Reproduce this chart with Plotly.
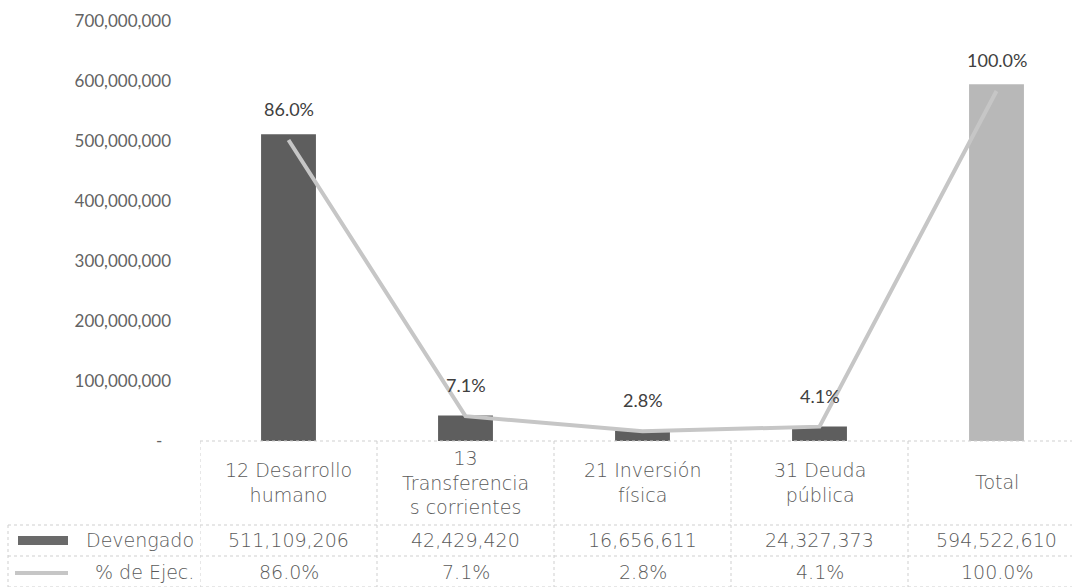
import plotly.graph_objects as go

categories = ["12 Desarrollo<br>humano", "13<br>Transferencia<br>s corrientes",
              "21 Inversión<br>física", "31 Deuda<br>pública", "Total"]
devengado = [511109206, 42429420, 16656611, 24327373, 594522610]
pct_ejec = [0.860, 0.071, 0.028, 0.041, 1.000]
bar_colors = ["#5e5e5e", "#5e5e5e", "#5e5e5e", "#5e5e5e", "#b8b8b8"]
y_ticks = [0, 100000000, 200000000, 300000000, 400000000, 500000000, 600000000, 700000000]
y_ticklabels = ["-  "] + [f"{v:,}" for v in y_ticks[1:]]
row_labels = ["Devengado", "% de Ejec."]

W, H = 1072, 587
L, R, T, B = 200, 0, 21, 146
plot_w = W - L - R
plot_h = H - T - B
unit_px = 177.0
xpos = list(range(len(categories)))
x_max = -0.5 + plot_w / unit_px


def py(Y):
    return (441 - Y) / plot_h


def px(X):
    return (X - L) / plot_w


fig = go.Figure()
fig.add_trace(go.Bar(x=xpos, y=devengado, marker=dict(color=bar_colors, line=dict(width=0)),
                     width=0.31, name="Devengado", showlegend=False))
fig.add_trace(go.Scatter(x=xpos, y=pct_ejec, yaxis="y2", mode="lines",
                         line=dict(color="#c6c6c6", width=4), name="% de Ejec.",
                         showlegend=False))

ann = []
for i, p in enumerate(pct_ejec):
    ann.append(dict(x=xpos[i], y=p, xref="x", yref="y2", text=f"{p*100:.1f}%",
                    showarrow=False, yshift=31, yanchor="middle",
                    font=dict(family="Lato, Calibri, sans-serif", size=18, color="#404040")))

hfont = dict(family="DejaVu Sans, sans-serif", size=19, color="#5a5a5a", weight=300)
nfont = dict(family="DejaVu Sans, sans-serif", size=19, color="#5a5a5a", weight=300)
for i, c in enumerate(categories):
    ann.append(dict(x=xpos[i], y=py(482), xref="x", yref="paper", text=c, showarrow=False,
                    font=hfont, align="center", yanchor="middle", xanchor="center"))
    ann.append(dict(x=xpos[i], y=py(540), xref="x", yref="paper", text=f"{devengado[i]:,}",
                    showarrow=False, font=nfont, yanchor="middle", xanchor="center"))
    ann.append(dict(x=xpos[i], y=py(572), xref="x", yref="paper",
                    text=f"{pct_ejec[i]*100:.1f}%", showarrow=False, font=nfont,
                    yanchor="middle", xanchor="center"))

for r, yy in zip(row_labels, [540, 572]):
    ann.append(dict(x=px(196), y=py(yy), xref="paper", yref="paper", text=r, showarrow=False,
                    xanchor="right", yanchor="middle", font=hfont))

shapes = []
gcol = "#cfcfcf"
for Y, x0 in [(441, 200), (525, 8), (556, 8), (587, 8)]:
    shapes.append(dict(type="line", xref="paper", yref="paper", x0=px(x0), x1=1.0,
                       y0=py(Y), y1=py(Y), line=dict(color=gcol, width=1, dash="dot")))
for k in range(len(categories)):
    shapes.append(dict(type="line", xref="x", yref="paper", x0=k - 0.5, x1=k - 0.5,
                       y0=py(441), y1=py(587), line=dict(color=gcol, width=1, dash="dot")))
shapes.append(dict(type="line", xref="paper", yref="paper", x0=px(8), x1=px(8),
                   y0=py(525), y1=py(587), line=dict(color=gcol, width=1, dash="dot")))
shapes.append(dict(type="rect", xref="paper", yref="paper", x0=px(18), x1=px(68),
                   y0=py(545), y1=py(536), fillcolor="#6a6a6a", line=dict(width=0)))
shapes.append(dict(type="line", xref="paper", yref="paper", x0=px(15), x1=px(68),
                   y0=py(573), y1=py(573), line=dict(color="#c6c6c6", width=4)))

fig.update_layout(
    width=W, height=H,
    margin=dict(l=L, r=R, t=T, b=B, pad=0),
    paper_bgcolor="white", plot_bgcolor="white",
    xaxis=dict(range=[-0.5, x_max], showticklabels=False, showgrid=False, zeroline=False,
               showline=False, ticks="", fixedrange=True),
    yaxis=dict(range=[0, 700000000], tickvals=y_ticks, ticktext=y_ticklabels,
               showgrid=False, zeroline=False, showline=False, ticks="",
               ticklabelstandoff=28,
               tickfont=dict(family="Lato, Calibri, sans-serif", size=17, color="#636363")),
    yaxis2=dict(range=[0, 1.2], overlaying="y", side="right", visible=False),
    annotations=ann, shapes=shapes,
)

fig.write_html("out.html")
